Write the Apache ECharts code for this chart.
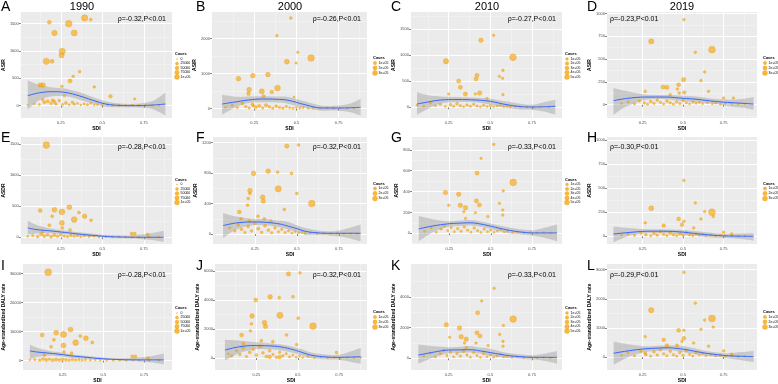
<!DOCTYPE html>
<html>
<head>
<meta charset="utf-8">
<script src="https://cdn.jsdelivr.net/npm/echarts@6/dist/echarts.min.js"></script>
<style>
html,body{margin:0;padding:0;background:#fff;}
#main{width:778px;height:384px;}
</style>
</head>
<body>
<div id="main"></div>
<script>
// ---- data: [SDI, rate, cases] ----
var ptsA = [[0.18,1525,20000],[0.297,1500,85000],[0.393,1604,80000],[0.43,1574,8000],[0.211,1330,50000],[0.33,1330,70000],[0.258,994,75000],[0.254,921,45000],[0.162,811,75000],[0.197,811,20000],[0.363,622,5000],[0.324,537,5000],[0.305,451,25000],[0.125,378,30000],[0.143,378,30000],[0.256,354,5000],[0.451,342,5000],[0.549,171,15000],[0.271,183,3000],[0.695,122,3000],
  [0.05,10,500],[0.09,30,1500],[0.12,20,2000],[0.14,110,6000],[0.15,60,8000],[0.17,80,10000],[0.19,40,5000],[0.2,100,8000],[0.21,70,12000],[0.22,30,4000],[0.24,90,6000],[0.26,20,3000],[0.28,50,8000],[0.3,15,2000],[0.32,60,5000],[0.33,25,3000],[0.35,40,2000],[0.37,10,1000],[0.39,30,2000],[0.41,15,3000],[0.43,45,2000],[0.45,10,1000],[0.47,20,1500],[0.5,5,800],[0.53,15,1000],[0.56,10,1000],[0.6,8,800],[0.64,5,500],[0.68,12,600],[0.72,6,500],[0.76,10,400],[0.8,5,300],[0.84,8,300]];
var ptsB = [[0.467,2590,20000],[0.384,2085,15000],[0.508,1609,10000],[0.443,1342,120000],[0.498,1304,8000],[0.587,1447,260000],[0.157,857,100000],[0.242,943,100000],[0.331,971,100000],[0.22,543,100000],[0.216,428,50000],[0.295,495,130000],[0.354,476,50000],[0.388,590,180000],[0.305,352,40000],[0.486,333,5000],[0.246,86,10000],
  [0.08,40,3000],[0.12,100,10000],[0.15,30,8000],[0.18,150,20000],[0.2,60,15000],[0.22,20,10000],[0.24,120,30000],[0.26,40,20000],[0.28,80,25000],[0.3,20,10000],[0.32,100,30000],[0.34,50,20000],[0.36,10,8000],[0.38,70,15000],[0.4,30,10000],[0.42,15,8000],[0.44,60,12000],[0.46,25,6000],[0.48,10,5000],[0.5,40,4000],[0.52,15,3000],[0.54,30,3000],[0.57,10,2000],[0.6,20,1500],[0.64,8,1000],[0.68,15,1000],[0.72,5,800],[0.76,12,600],[0.8,6,500],[0.84,10,400]];
var ptsC = [[0.52,1385,20000],[0.444,1288,150000],[0.234,885,250000],[0.636,962,450000],[0.576,711,20000],[0.554,596,20000],[0.574,558,20000],[0.42,615,120000],[0.414,545,120000],[0.31,506,120000],[0.32,385,120000],[0.35,256,120000],[0.436,276,150000],[0.41,256,20000],[0.25,256,20000],[0.576,244,20000],[0.48,167,20000],
  [0.06,40,3000],[0.1,20,5000],[0.14,80,10000],[0.17,30,8000],[0.2,60,20000],[0.23,15,10000],[0.26,50,25000],[0.28,20,15000],[0.3,70,30000],[0.32,30,20000],[0.34,10,10000],[0.36,45,25000],[0.38,20,15000],[0.4,60,20000],[0.42,25,12000],[0.44,10,10000],[0.46,40,15000],[0.48,15,8000],[0.5,30,10000],[0.52,10,6000],[0.54,25,8000],[0.56,40,5000],[0.58,15,4000],[0.6,20,3000],[0.62,8,2500],[0.65,15,2000],[0.68,5,1500],[0.72,10,1000],[0.76,5,800],[0.8,12,600],[0.85,6,500]];
var ptsD = [[0.505,933,15000],[0.303,695,150000],[0.678,604,280000],[0.575,575,15000],[0.633,359,15000],[0.61,264,15000],[0.503,275,80000],[0.472,220,60000],[0.376,194,70000],[0.4,190,70000],[0.464,172,15000],[0.507,135,40000],[0.476,128,15000],[0.657,146,15000],[0.266,146,15000],[0.42,110,15000],[0.75,73,15000],[0.81,73,15000],
  [0.12,15,3000],[0.16,30,5000],[0.2,10,8000],[0.23,40,10000],[0.26,20,15000],[0.28,5,8000],[0.3,35,20000],[0.32,15,12000],[0.34,50,15000],[0.36,25,10000],[0.38,8,8000],[0.4,40,20000],[0.42,20,12000],[0.44,5,8000],[0.46,30,15000],[0.48,12,10000],[0.5,45,12000],[0.52,20,8000],[0.54,8,6000],[0.56,30,8000],[0.58,15,5000],[0.6,25,4000],[0.62,10,3000],[0.65,20,3000],[0.68,8,2000],[0.7,15,2000],[0.73,5,1500],[0.76,12,1000],[0.8,8,800],[0.84,5,600],[0.88,10,500]];
var ptsE = [[0.162,1484,90000],[0.125,430,20000],[0.211,441,40000],[0.256,409,65000],[0.301,484,40000],[0.197,339,8000],[0.359,398,8000],[0.393,339,30000],[0.256,231,40000],[0.33,285,60000],[0.432,274,8000],[0.18,194,8000],[0.258,151,8000],[0.305,118,8000],[0.139,86,8000],[0.676,59,8000],[0.695,59,8000],[0.773,43,8000],
  [0.05,15,1000],[0.08,30,3000],[0.11,10,5000],[0.13,50,8000],[0.15,20,10000],[0.17,40,6000],[0.19,10,8000],[0.21,35,10000],[0.23,15,6000],[0.25,45,8000],[0.27,20,5000],[0.29,10,4000],[0.31,30,5000],[0.33,15,3000],[0.35,25,3000],[0.37,8,2000],[0.39,20,2000],[0.42,10,1500],[0.45,15,1000],[0.48,5,800],[0.52,10,800],[0.56,5,600],[0.6,8,500],[0.64,4,400],[0.68,6,400],[0.72,3,300],[0.78,5,300],[0.84,3,200]];
var ptsF = [[0.44,1156,80000],[0.51,1169,20000],[0.242,796,100000],[0.329,826,100000],[0.385,813,20000],[0.468,796,20000],[0.389,593,220000],[0.22,571,100000],[0.22,532,20000],[0.5,532,20000],[0.296,484,100000],[0.3,431,80000],[0.21,466,20000],[0.206,378,20000],[0.589,400,260000],[0.157,290,60000],[0.268,233,20000],[0.425,321,20000],[0.167,198,20000],[0.306,198,20000],[0.345,167,20000],[0.216,167,20000],
  [0.1,80,8000],[0.13,40,10000],[0.15,120,15000],[0.17,60,20000],[0.19,20,10000],[0.21,100,25000],[0.23,40,15000],[0.25,140,20000],[0.27,70,30000],[0.29,20,15000],[0.31,110,25000],[0.33,50,20000],[0.35,15,10000],[0.37,80,15000],[0.39,30,12000],[0.41,60,10000],[0.43,20,8000],[0.45,40,8000],[0.47,10,5000],[0.49,30,5000],[0.51,15,4000],[0.53,25,3000],[0.55,8,3000],[0.58,15,2000],[0.62,5,1500],[0.66,10,1000],[0.7,4,800],[0.74,8,600],[0.78,3,500],[0.82,6,400],[0.86,3,300]];
var ptsG = [[0.518,852,20000],[0.441,719,20000],[0.417,577,120000],[0.635,487,450000],[0.575,406,20000],[0.226,390,150000],[0.306,374,150000],[0.246,268,20000],[0.316,268,150000],[0.347,245,150000],[0.413,310,120000],[0.431,271,120000],[0.552,287,20000],[0.337,206,20000],[0.572,223,20000],[0.407,197,20000],[0.572,174,20000],[0.482,161,20000],[0.347,142,20000],
  [0.1,20,5000],[0.14,50,10000],[0.17,10,8000],[0.2,40,15000],[0.22,70,20000],[0.24,25,12000],[0.26,55,20000],[0.28,15,10000],[0.3,45,25000],[0.32,20,15000],[0.34,60,20000],[0.36,30,15000],[0.38,10,10000],[0.4,50,20000],[0.42,25,15000],[0.44,8,10000],[0.46,40,15000],[0.48,15,10000],[0.5,30,12000],[0.52,10,8000],[0.54,20,6000],[0.56,35,5000],[0.58,12,4000],[0.6,20,3000],[0.63,8,2000],[0.66,15,2000],[0.7,5,1500],[0.74,10,1000],[0.78,4,800],[0.82,8,600],[0.86,3,500]];
var ptsH = [[0.505,580,15000],[0.575,347,15000],[0.303,291,120000],[0.678,250,280000],[0.633,257,15000],[0.686,205,15000],[0.61,180,15000],[0.266,139,15000],[0.472,180,60000],[0.505,156,15000],[0.493,121,50000],[0.38,111,50000],[0.565,87,15000],[0.75,42,15000],[0.8,24,15000],
  [0.12,10,3000],[0.16,25,5000],[0.2,8,8000],[0.24,35,10000],[0.27,15,15000],[0.3,5,8000],[0.32,30,20000],[0.34,12,12000],[0.36,45,15000],[0.38,20,10000],[0.4,8,8000],[0.42,35,20000],[0.44,15,12000],[0.46,5,8000],[0.48,25,15000],[0.5,10,10000],[0.52,40,12000],[0.54,15,8000],[0.56,5,6000],[0.58,25,8000],[0.6,12,5000],[0.62,20,4000],[0.64,8,3000],[0.67,15,3000],[0.7,5,2000],[0.73,10,2000],[0.76,4,1500],[0.8,8,1000],[0.84,3,600],[0.88,6,500]];
var ptsI = [[0.162,30440,95000],[0.125,8790,20000],[0.211,9560,40000],[0.256,9010,70000],[0.299,10660,40000],[0.197,7140,8000],[0.359,8460,8000],[0.393,7690,40000],[0.256,5165,40000],[0.33,6150,60000],[0.432,6260,8000],[0.18,4730,8000],[0.258,2970,8000],[0.305,2530,8000],[0.139,1870,8000],[0.676,1430,8000],[0.695,1430,8000],[0.773,770,8000],
  [0.05,150,1000],[0.08,300,3000],[0.11,100,5000],[0.13,500,8000],[0.15,200,10000],[0.17,400,6000],[0.19,100,8000],[0.21,350,10000],[0.23,150,6000],[0.25,450,8000],[0.27,200,5000],[0.29,100,4000],[0.31,300,5000],[0.33,150,3000],[0.35,250,3000],[0.37,80,2000],[0.39,200,2000],[0.42,100,1500],[0.45,150,1000],[0.48,50,800],[0.52,100,800],[0.56,50,600],[0.6,80,500],[0.64,40,400],[0.68,60,400],[0.72,30,300],[0.78,50,300],[0.84,30,200]];
var ptsJ = [[0.444,5820,80000],[0.513,5890,20000],[0.246,4013,60000],[0.333,4234,100000],[0.388,4168,20000],[0.471,4234,20000],[0.392,2955,220000],[0.224,2910,100000],[0.22,2360,20000],[0.503,2756,20000],[0.299,2448,100000],[0.305,2183,80000],[0.214,1874,20000],[0.592,2205,260000],[0.161,1588,60000],[0.28,1191,20000],[0.432,1588,20000],[0.171,992,20000],[0.349,1125,20000],[0.493,926,20000],[0.734,375,20000],[0.33,80,50000],[0.39,60,60000],
  [0.08,300,3000],[0.1,150,8000],[0.13,500,10000],[0.15,250,15000],[0.17,700,20000],[0.19,100,10000],[0.21,400,25000],[0.23,600,15000],[0.25,200,20000],[0.27,800,30000],[0.29,350,15000],[0.31,100,25000],[0.33,500,20000],[0.35,250,10000],[0.37,50,15000],[0.39,400,12000],[0.41,150,10000],[0.43,300,8000],[0.45,80,8000],[0.47,200,5000],[0.49,50,5000],[0.51,150,4000],[0.53,30,3000],[0.56,100,3000],[0.6,20,2000],[0.64,60,1500],[0.68,10,1000],[0.72,40,800],[0.76,10,600],[0.8,30,500],[0.84,8,400],[0.88,20,300]];
var ptsK = [[0.523,4560,20000],[0.448,3731,20000],[0.424,2964,120000],[0.637,2550,450000],[0.578,2135,20000],[0.236,2177,150000],[0.315,1969,150000],[0.256,1368,20000],[0.325,1410,150000],[0.355,1244,150000],[0.42,1658,120000],[0.438,1451,120000],[0.556,1555,20000],[0.345,995,20000],[0.576,1099,20000],[0.414,995,20000],[0.576,788,20000],[0.487,829,20000],[0.355,684,20000],
  [0.1,150,5000],[0.14,350,10000],[0.17,80,8000],[0.2,300,15000],[0.22,500,20000],[0.24,180,12000],[0.26,400,20000],[0.28,100,10000],[0.3,320,25000],[0.32,150,15000],[0.34,450,20000],[0.36,220,15000],[0.38,70,10000],[0.4,380,20000],[0.42,180,15000],[0.44,60,10000],[0.46,300,15000],[0.48,110,10000],[0.5,220,12000],[0.52,70,8000],[0.54,150,6000],[0.56,260,5000],[0.58,90,4000],[0.6,150,3000],[0.63,60,2000],[0.66,110,2000],[0.7,40,1500],[0.74,80,1000],[0.78,30,800],[0.82,60,600],[0.86,20,500]];
var ptsL = [[0.505,2913,15000],[0.575,1851,15000],[0.303,1610,150000],[0.678,1325,280000],[0.633,1270,15000],[0.686,1029,15000],[0.61,953,15000],[0.266,701,15000],[0.472,920,60000],[0.505,920,15000],[0.505,646,50000],[0.493,537,15000],[0.38,591,50000],[0.4,394,50000],[0.462,394,40000],[0.565,482,15000],[0.657,372,15000],[0.75,208,15000],[0.8,99,15000],[0.266,131,15000],
  [0.12,60,3000],[0.16,150,5000],[0.2,40,8000],[0.24,200,10000],[0.27,80,15000],[0.3,30,8000],[0.32,180,20000],[0.34,70,12000],[0.36,250,15000],[0.38,110,10000],[0.4,40,8000],[0.42,200,20000],[0.44,80,12000],[0.46,30,8000],[0.48,150,15000],[0.5,60,10000],[0.52,220,12000],[0.54,90,8000],[0.56,30,6000],[0.58,140,8000],[0.6,70,5000],[0.62,110,4000],[0.64,40,3000],[0.67,80,3000],[0.7,30,2000],[0.73,60,2000],[0.76,20,1500],[0.8,40,1000],[0.84,15,600],[0.88,30,500]];

// ---- loess fits: [SDI, fit, lower, upper] ----
var fitA = [[0.05,183,-70,460],[0.12,235,100,380],[0.2,255,170,330],[0.28,240,170,310],[0.36,180,110,250],[0.44,100,40,160],[0.52,30,-20,80],[0.6,5,-30,40],[0.7,0,-30,35],[0.8,10,-60,80],[0.88,30,-180,240]];
var fitB = [[0.06,133,-171,400],[0.15,200,60,340],[0.22,250,160,345],[0.3,276,181,352],[0.38,268,175,345],[0.45,240,143,333],[0.55,114,19,210],[0.65,19,-57,86],[0.75,19,-57,90],[0.82,25,-100,150],[0.88,38,-200,276]];
var fitC = [[0.06,64,-141,288],[0.13,105,-20,230],[0.2,140,70,210],[0.3,150,103,199],[0.42,140,95,185],[0.5,115,51,167],[0.6,50,-10,110],[0.68,15,-40,70],[0.75,6,-45,51],[0.82,10,-80,100],[0.89,20,-141,147]];
var fitD = [[0.07,44,-110,183],[0.15,68,-20,150],[0.27,84,55,110],[0.39,84,60,105],[0.5,70,37,99],[0.58,60,25,90],[0.7,35,8,62],[0.8,22,-20,55],[0.88,14,-35,65],[0.935,7,-55,84]];
var fitE = [[0.05,150,43,269],[0.1,125,60,200],[0.17,107,70,150],[0.24,88,55,120],[0.3,70,43,97],[0.38,45,20,75],[0.46,27,0,54],[0.53,12,-10,35],[0.6,5,-16,27],[0.67,1,-20,30],[0.73,0,-27,43],[0.8,0,-45,70],[0.87,0,-75,107]];
var fitF = [[0.06,110,-53,277],[0.14,145,60,230],[0.24,158,114,198],[0.32,152,110,195],[0.4,130,85,175],[0.45,101,57,158],[0.5,70,25,115],[0.55,35,-9,79],[0.62,15,-15,50],[0.7,9,-22,35],[0.78,9,-40,60],[0.88,9,-97,123]];
var fitG = [[0.065,42,-77,165],[0.15,70,10,135],[0.24,90,61,116],[0.31,97,70,122],[0.38,100,74,126],[0.44,88,62,112],[0.5,68,42,94],[0.56,45,18,72],[0.62,26,-3,52],[0.69,10,-12,35],[0.76,3,-23,29],[0.83,3,-45,55],[0.9,3,-77,84]];
var fitH = [[0.07,24,-62,101],[0.17,40,5,85],[0.27,52,31,73],[0.35,53,33,72],[0.41,52,32,70],[0.5,43,14,66],[0.57,30,5,55],[0.64,17,-10,42],[0.71,8,-14,30],[0.78,3,-17,24],[0.86,1,-28,28],[0.935,0,-45,31]];
var fitI = [[0.05,3300,550,5500],[0.1,2900,1300,4300],[0.17,2530,1650,3300],[0.24,2100,1400,2800],[0.3,1650,990,2200],[0.38,1200,650,1700],[0.46,770,330,1210],[0.53,500,100,900],[0.6,330,-110,770],[0.67,250,-200,900],[0.73,220,-330,1100],[0.8,220,-700,1600],[0.87,220,-1320,2420]];
var fitJ = [[0.06,551,-176,1257],[0.15,780,350,1200],[0.24,860,595,1100],[0.3,850,610,1050],[0.36,816,595,990],[0.42,720,480,900],[0.48,551,330,750],[0.53,370,150,580],[0.58,198,-22,375],[0.65,90,-80,260],[0.73,44,-110,200],[0.8,55,-220,380],[0.88,88,-397,705]];
var fitK = [[0.068,207,-352,891],[0.16,400,50,780],[0.25,539,332,725],[0.32,550,350,760],[0.38,560,373,800],[0.44,480,290,700],[0.5,373,166,622],[0.56,260,80,450],[0.62,166,0,332],[0.69,100,-40,250],[0.76,62,-83,207],[0.83,62,-180,320],[0.9,62,-352,477]];
var fitL = [[0.071,131,-263,537],[0.17,220,20,430],[0.27,285,175,372],[0.34,305,210,390],[0.41,318,230,394],[0.46,295,200,385],[0.51,263,153,372],[0.57,200,100,300],[0.64,131,44,208],[0.71,80,0,160],[0.78,44,-44,131],[0.86,25,-110,170],[0.935,11,-175,208]];

// ---- axes ----
var xTicks = [0.25, 0.5, 0.75];
var xRange1990 = [0.008, 0.92], xRange2000 = [0.0, 0.918], xRange2010 = [0.024, 0.93], xRange2019 = [0.03, 0.956];
var yTicksA = [0, 500, 1000, 1500], yRangeA = [-226, 1713];
var yTicksB = [0, 1000, 2000], yRangeB = [-267, 2762];
var yTicksC = [0, 500, 1000, 1500], yRangeC = [-205, 1833];
var yTicksD = [0, 250, 500, 750, 1000], yRangeD = [-146, 1017];
var yTicksE = [0, 500, 1000, 1500], yRangeE = [-108, 1613];
var yTicksF = [0, 400, 800, 1200], yRangeF = [-132, 1275];
var yTicksG = [0, 200, 400, 600, 800], yRangeG = [-103, 923];
var yTicksH = [0, 250, 500, 750, 1000], yRangeH = [-80, 1031];
var yTicksI = [0, 10000, 20000, 30000], yRangeI = [-3300, 33300];
var yTicksJ = [0, 2000, 4000, 6000], yRangeJ = [-838, 6505];
var yTicksK = [0, 2000, 4000], yRangeK = [-767, 6136];
var yTicksL = [0, 1000, 2000, 3000], yRangeL = [-449, 3197];

var years = ['1990', '2000', '2010', '2019'];
var letters = ['A','B','C','D','E','F','G','H','I','J','K','L'];
var yNames = ['ASIR', 'ASDR', 'Age-standardized DALY rate'];
var rhoTexts = ['ρ=-0.32,P<0.01','ρ=-0.26,P<0.01','ρ=-0.27,P<0.01','ρ=-0.23,P<0.01',
                'ρ=-0.28,P<0.01','ρ=-0.32,P<0.01','ρ=-0.33,P<0.01','ρ=-0.30,P<0.01',
                'ρ=-0.28,P<0.01','ρ=-0.32,P<0.01','ρ=-0.33,P<0.01','ρ=-0.29,P<0.01'];
var casesLegend1990 = [0, 25000, 50000, 75000, 100000];
var casesLegend3 = [100000, 200000, 300000];
var casesLegend5 = [100000, 200000, 300000, 400000, 500000];

var panels = [
  {pts: ptsA, fit: fitA, xr: xRange1990, yt: yTicksA, yr: yRangeA, leg: casesLegend1990},
  {pts: ptsB, fit: fitB, xr: xRange2000, yt: yTicksB, yr: yRangeB, leg: casesLegend3},
  {pts: ptsC, fit: fitC, xr: xRange2010, yt: yTicksC, yr: yRangeC, leg: casesLegend5},
  {pts: ptsD, fit: fitD, xr: xRange2019, yt: yTicksD, yr: yRangeD, leg: casesLegend3},
  {pts: ptsE, fit: fitE, xr: xRange1990, yt: yTicksE, yr: yRangeE, leg: casesLegend1990},
  {pts: ptsF, fit: fitF, xr: xRange2000, yt: yTicksF, yr: yRangeF, leg: casesLegend3},
  {pts: ptsG, fit: fitG, xr: xRange2010, yt: yTicksG, yr: yRangeG, leg: casesLegend5},
  {pts: ptsH, fit: fitH, xr: xRange2019, yt: yTicksH, yr: yRangeH, leg: casesLegend3},
  {pts: ptsI, fit: fitI, xr: xRange1990, yt: yTicksI, yr: yRangeI, leg: casesLegend1990},
  {pts: ptsJ, fit: fitJ, xr: xRange2000, yt: yTicksJ, yr: yRangeJ, leg: casesLegend3},
  {pts: ptsK, fit: fitK, xr: xRange2010, yt: yTicksK, yr: yRangeK, leg: casesLegend5},
  {pts: ptsL, fit: fitL, xr: xRange2019, yt: yTicksL, yr: yRangeL, leg: casesLegend3}
];

// ---- layout (pixels) ----
var rowTop = [12, 137, 264], rowBottom = [118, 244, 374];
var colLeft = [[16, 212, 411, 607], [17, 213, 412, 607], [18, 215, 411, 607]];
var colRight = [172, 367, 562, 757];
var letterX = [1, 196, 391, 587], letterY = [7, 138, 266];
var titleX = [82, 290, 487, 682];
var rhoDy = [7, 10, 11];

var FONT = '"Liberation Sans", Arial, sans-serif';
var ORANGE = 'rgba(248,166,10,0.8)';
var BAND = 'rgba(153,153,153,0.42)';

function sizeOf(c, max) { return 1.5 + 5.5 * Math.sqrt(Math.max(c, 0) / max); }
function minorOf(ticks, range) {
  var step = ticks[1] - ticks[0], out = [];
  for (var k = -4; k < 20; k++) {
    var v = ticks[0] + (k + 0.5) * step;
    if (v > range[0] && v < range[1]) out.push(v);
  }
  return out;
}
function fmtCases(v) {
  if (v >= 100000) return (v / 100000) + 'e+05';
  return String(v);
}
// catmull-rom through pixel points -> bezier path segments (no leading M)
function splinePath(p) {
  var s = '';
  for (var i = 0; i < p.length - 1; i++) {
    var p0 = p[Math.max(i - 1, 0)], p1 = p[i], p2 = p[i + 1], p3 = p[Math.min(i + 2, p.length - 1)];
    var c1x = p1[0] + (p2[0] - p0[0]) / 6, c1y = p1[1] + (p2[1] - p0[1]) / 6;
    var c2x = p2[0] - (p3[0] - p1[0]) / 6, c2y = p2[1] - (p3[1] - p1[1]) / 6;
    s += ' C' + c1x + ',' + c1y + ' ' + c2x + ',' + c2y + ' ' + p2[0] + ',' + p2[1];
  }
  return s;
}
function bandRenderer(fit) {
  return function (params, api) {
    if (params.dataIndex !== 0) return;
    var up = fit.map(function (d) { return api.coord([d[0], d[3]]); });
    var lo = fit.map(function (d) { return api.coord([d[0], d[2]]); }).reverse();
    var path = 'M' + up[0][0] + ',' + up[0][1] + splinePath(up) +
               ' L' + lo[0][0] + ',' + lo[0][1] + splinePath(lo) + ' Z';
    return {type: 'path', shape: {pathData: path}, style: {fill: BAND}};
  };
}

var grids = [], xAxes = [], yAxes = [], series = [], graphics = [];

panels.forEach(function (p, i) {
  var row = Math.floor(i / 4), col = i % 4;
  var l = colLeft[row][col], r = colRight[col], t = rowTop[row], b = rowBottom[row];
  var maxC = p.leg[p.leg.length - 1];
  grids.push({left: l, top: t, width: r - l, height: b - t, show: true,
              backgroundColor: '#EBEBEB', borderWidth: 0});
  var xMinor = minorOf(xTicks, p.xr), yMinor = minorOf(p.yt, p.yr);
  xAxes.push({type: 'value', gridIndex: i, min: p.xr[0], max: p.xr[1],
    axisLine: {show: false},
    axisTick: {show: true, customValues: xTicks, length: 2, lineStyle: {color: '#333', width: 0.6}},
    axisLabel: {customValues: xTicks, fontSize: 4, color: '#4D4D4D', margin: 3, fontFamily: FONT,
                formatter: function (v) { return String(v); }},
    splitLine: {show: true, lineStyle: {color: '#fff', width: 1}},
    name: 'SDI', nameLocation: 'middle', nameGap: 6,
    nameTextStyle: {fontSize: 5, fontWeight: 'bold', color: '#000', fontFamily: FONT}});
  xAxes.push({type: 'value', gridIndex: i, min: p.xr[0], max: p.xr[1], position: 'bottom',
    axisLine: {show: false}, axisTick: {show: false, customValues: xMinor}, axisLabel: {show: false},
    splitLine: {show: true, lineStyle: {color: 'rgba(255,255,255,0.55)', width: 0.6}}});
  yAxes.push({type: 'value', gridIndex: i, min: p.yr[0], max: p.yr[1],
    axisLine: {show: false},
    axisTick: {show: true, customValues: p.yt, length: 2, lineStyle: {color: '#333', width: 0.6}},
    axisLabel: {customValues: p.yt, fontSize: 4, color: '#4D4D4D', margin: 2, fontFamily: FONT,
                formatter: function (v) { return String(v); }},
    splitLine: {show: true, lineStyle: {color: '#fff', width: 1}},
    name: yNames[row], nameLocation: 'middle', nameGap: row === 2 ? 5 : 8, nameRotate: 90,
    nameTextStyle: {fontSize: 5, fontWeight: 'bold', color: '#000', fontFamily: FONT}});
  yAxes.push({type: 'value', gridIndex: i, min: p.yr[0], max: p.yr[1], position: 'right',
    axisLine: {show: false}, axisTick: {show: false, customValues: yMinor}, axisLabel: {show: false},
    splitLine: {show: true, lineStyle: {color: 'rgba(255,255,255,0.55)', width: 0.6}}});

  var ax = 2 * i;
  series.push({type: 'custom', xAxisIndex: ax, yAxisIndex: ax, data: p.fit, z: 2, clip: true,
    renderItem: bandRenderer(p.fit), silent: true});
  series.push({type: 'scatter', xAxisIndex: ax, yAxisIndex: ax, data: p.pts, z: 3,
    symbolSize: function (d) { return sizeOf(d[2], maxC); },
    itemStyle: {color: ORANGE, borderColor: 'rgba(232,145,0,0.9)', borderWidth: 0.4}});
  series.push({type: 'line', xAxisIndex: ax, yAxisIndex: ax,
    data: p.fit.map(function (d) { return [d[0], d[1]]; }), smooth: 0.4, symbol: 'none', z: 4,
    lineStyle: {color: '#3366FF', width: 1}});

  // panel letter
  graphics.push({type: 'text', x: letterX[col], y: letterY[row],
    style: {text: letters[i], fontSize: 14, fontFamily: FONT, fill: '#000', textVerticalAlign: 'middle'}});
  // rho annotation
  var rightSide = col !== 3;
  graphics.push({type: 'text', x: rightSide ? r - 6 : l + 3, y: t + rhoDy[row], z: 10,
    style: {text: rhoTexts[i], fontSize: 7, fontFamily: FONT, fill: '#000',
            textAlign: rightSide ? 'right' : 'left', textVerticalAlign: 'middle'}});
  // legend
  var n = p.leg.length, sp = n === 5 ? 4.5 : 5;
  var lx = r + (col % 2 === 1 ? 6 : 3);
  var cy = (t + b) / 2;
  var y0 = cy - (n - 1) * sp / 2 + 3;
  graphics.push({type: 'text', x: lx, y: y0 - 5,
    style: {text: 'Cases', fontSize: 4, fontWeight: 'bold', fontFamily: FONT, fill: '#000', textVerticalAlign: 'middle'}});
  p.leg.forEach(function (v, k) {
    graphics.push({type: 'circle', shape: {cx: lx + 2, cy: y0 + k * sp, r: sizeOf(v, maxC) * 0.36},
      style: {fill: ORANGE, stroke: 'rgba(232,145,0,0.9)', lineWidth: 0.3}});
    graphics.push({type: 'text', x: lx + 5.5, y: y0 + k * sp,
      style: {text: fmtCases(v), fontSize: 3.5, fontFamily: FONT, fill: '#000', textVerticalAlign: 'middle'}});
  });
});

years.forEach(function (yr, c) {
  graphics.push({type: 'text', x: titleX[c], y: 7,
    style: {text: yr, fontSize: 11, fontFamily: FONT, fill: '#000', textAlign: 'center', textVerticalAlign: 'middle'}});
});

var myChart = echarts.init(document.getElementById('main'));
myChart.setOption({
  animation: false,
  grid: grids,
  xAxis: xAxes,
  yAxis: yAxes,
  series: series,
  graphic: graphics
});
window.addEventListener('resize', function () { myChart.resize(); });
</script>
</body>
</html>
